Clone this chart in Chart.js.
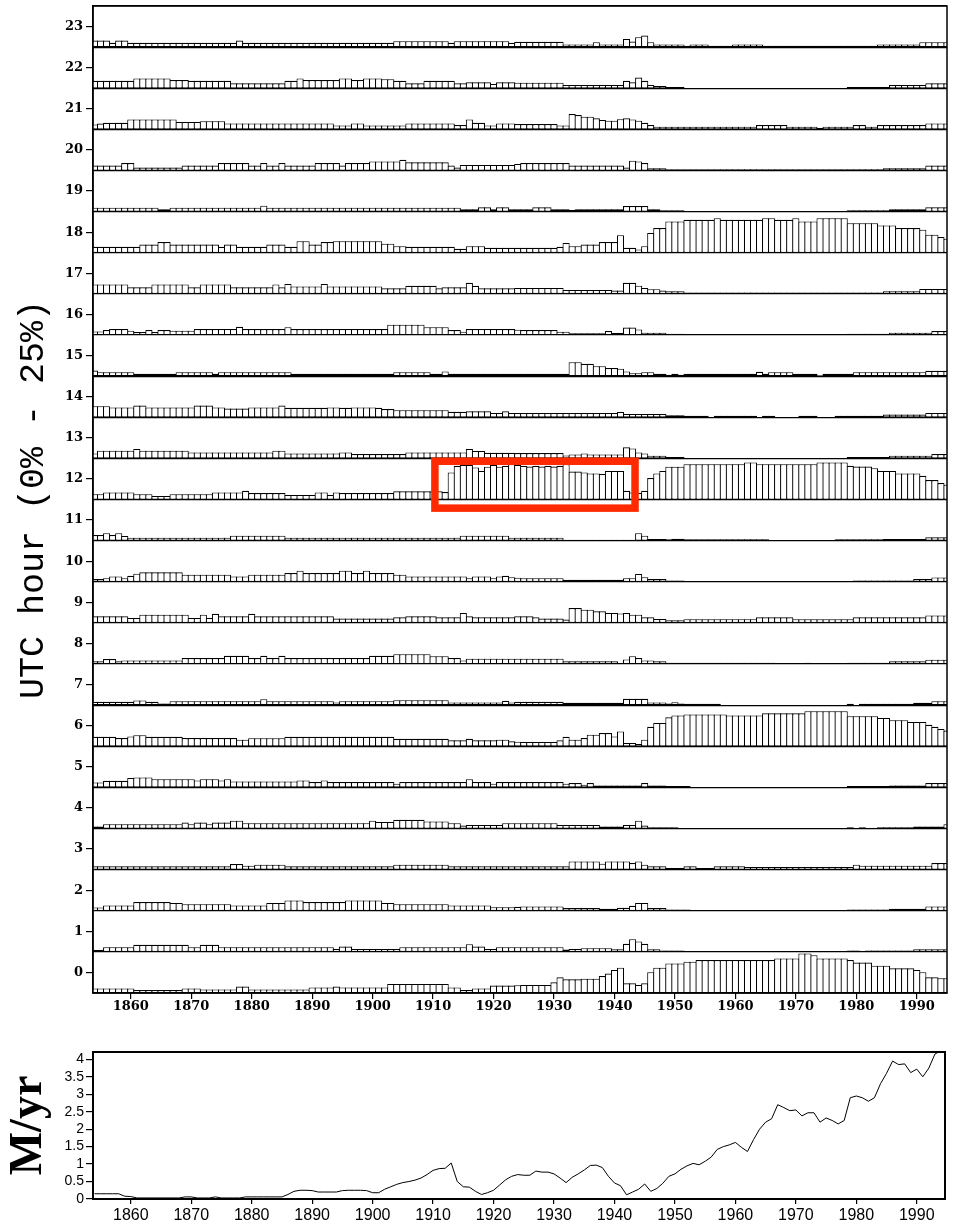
<!DOCTYPE html>
<html><head><meta charset="utf-8">
<script src="https://cdn.jsdelivr.net/npm/chart.js@4.4.1/dist/chart.umd.min.js"></script>
<style>
html,body{margin:0;padding:0;background:#fff;}
#wrap{position:relative;width:956px;height:1227px;background:#fff;}
#top{position:absolute;left:0;top:0;}
#bot{position:absolute;left:0;top:1030px;}
</style></head><body>
<div id="wrap"><canvas id="top" width="956" height="1030"></canvas><canvas id="bot" width="956" height="197"></canvas></div>
<script>
// ---------- data (percent of reports per UTC hour, one value per year 1854..1995) ----------
const firstYear = 1854;
const yearTicks = [1860,1870,1880,1890,1900,1910,1920,1930,1940,1950,1960,1970,1980,1990];
const hourTicks = [0,1,2,3,4,5,6,7,8,9,10,11,12,13,14,15,16,17,18,19,20,21,22,23];
const rateTicks = [0,0.5,1,1.5,2,2.5,3,3.5,4];

const h00 = [[2.8,2.8,2.8,2.8,2.8,2.8],
[2.8,1.8,1.8,1.8,1.8,1.8,1.8,1.8,1.8,2.8],[2.8,2.8,2.2,2.2,2.2,2.2,2.2,2.2,3.9,3.9],
[2.2,2.2,2.2,2.2,2.2,2.2,2.2,2.2,2.2,2.2],[3.4,3.4,3.4,3.4,3.9,3.4,3.4,3.4,3.4,3.4],
[3.4,3.4,3.4,5.5,5.5,5.5,5.5,5.5,5.5,5.5],[5.5,5.5,5.5,3.4,3.4,1.8,1.8,2.8,2.8,2.8],
[4.5,4.5,4.5,4.5,4.7,4.9,4.9,4.9,4.9,4.9],[6.5,9.5,8.3,8.3,8.3,8.7,8.7,8.7,10.3,11.8],
[14,15.4,5.9,5.9,4.9,5.9,12.6,15.4,15.4,18],[18,18,19,19,20,20,20,20,20,20],
[20,20,20,20,20,20,20,21,21,21],[21,24,24,23,21,21,21,21,21,20],
[18.5,18.5,18.5,16.6,16.6,16.6,15,15,15,15],[14,12.6,9.5,9.5,9,9]].flat();
const h01 = [[1.2,1.2,2.8,2.8,2.8,2.8],
[2.8,4.3,4.3,4.3,4.3,4.3,4.3,4.3,4.3,4.3],[2.8,2.8,4.3,4.3,4.3,2.8,2.8,2.8,2.8,2.8],
[2.8,2.8,2.8,2.8,2.8,2.8,2.8,2.8,2.8,2.8],[2.8,2.8,2.8,2.8,1.8,3.2,3.2,1.8,1.8,1.8],
[1.8,1.8,1.8,1.8,1.8,2.8,2.8,2.8,2.8,2.8],[2.8,2.8,2.8,2.8,2.8,2.8,4.7,3.2,3.2,1.8],
[1.8,2.8,2.8,2.8,2.8,2.8,2.8,2.8,2.8,2.8],[2.8,2.8,1.4,1.8,1.8,2.2,2.2,2.2,2.2,2.2],
[1.6,1.6,4.9,7.7,6.3,4.9,1.6,1.6,0.8,0.8],[0.8,0.8,0,0,0,0,0,0,0,0],
[0,0,0,0,0,0,0,0,0,0],[0,0,0,0,0,0,0,0,0,0.8],
[0.8,0,0.8,0.8,0.8,0.8,0.8,0.8,0.8,0.8],[1.6,1.6,1.6,1.6,1.6,1.6]].flat();
const h02 = [[2,2,3.2,3.2,3.2,3.2],
[3.2,5.3,5.3,5.3,5.3,5.3,5.3,4.7,4.7,4],[4,4,4,4,4,4,4,3.2,3.2,3.2],
[3.2,3.2,3.2,4.7,4.7,4.7,6.3,6.3,6.3,5.3],[5.3,5.3,5.3,5.3,5.3,5.3,6.3,6.3,6.3,6.3],
[6.3,6.3,4.7,4.7,4,4,4,4,4,4],[4,4,4,3.2,3.2,3.2,3.2,3.2,3.2,3.2],
[2.2,2.2,2.2,2.2,2.4,2.6,2.6,2.6,2.6,2.6],[2.6,2.6,1.6,1.6,1.6,1.6,1.6,1.6,1.2,1.2],
[1.2,1.8,1.8,3,4.7,4.7,1.6,1.6,1.6,0.8],[0.8,0.8,0.8,0,0,0,0,0,0,0],
[0,0,0,0,0,0,0,0,0,0],[0,0,0,0,0,0,0,0,0,0.8],
[0.8,0.8,0.8,0.8,0.8,0.8,1.2,1.2,1.2,1.2],[1.2,1.2,2.6,2.6,2.6,2.6]].flat();
const h03 = [[2,2,2,2,2,2],
[2,2,2,2,2,2,2,2,2,2],[2,2,2,2,2,2,2,3.4,3.4,2.4],
[2.4,3,3,3,3,3,2,2,2,2],[2,2,2,2,2,2,2,2,2,2],
[2,2,2,2,3,3,3,3,3,3],[3,3,3,2,2,2,2,2,2,2],
[2,2,2,2,2,2,2,2,2,2],[2,2,2,5,5,5,5,5,3.6,5],
[5,5,5,4,5,3,2,2,2,1],[1,1,2,2,1,1,1,2,2,2],
[2,2,1.6,1.6,1.6,1.6,1.6,1.6,1.6,1.6],[1.6,1.6,1.6,1.6,1.6,1.6,1.6,1.6,1.6,1.6],
[3,2.4,2.4,2.4,2.4,2.4,2.4,2.4,2.4,2.4],[2.4,2.4,2.4,4,4,4]].flat();
const h04 = [[1.2,1.2,2.6,2.6,2.6,2.6],
[2.6,2.6,2.6,2.6,2.6,2.6,2.6,2.6,2.6,3.6],[2.6,3.6,3.6,2.6,3.6,3.6,3.6,4.7,4.7,3.2],
[3.2,3.2,3.2,3.2,3.2,3.2,3.2,3.2,3.2,3.2],[3.2,3.2,3.2,3.2,3.2,3.2,3.2,3.2,3.2,3.2],
[4.7,4,4,4,5.3,5.3,5.3,5.3,5.3,4.3],[4.3,4.3,4.3,3.2,3.2,1.8,2.2,2.2,2.2,2.2],
[2.2,2.2,3.2,3.2,3.2,3.2,3.2,3.2,3.2,3.2],[3.2,2.2,2.2,2.2,2.2,2.2,2.2,2.2,1.2,1.2],
[1.2,1.2,2.2,2.2,4.7,1.8,0.8,0.8,0.8,0.8],[0.8,0,0,0,0,0,0,0,0,0],
[0,0,0,0,0,0,0,0,0,0],[0,0,0,0,0,0,0,0,0,0.8],
[0,0.8,0,0,0.8,0.8,0.8,0.8,0.8,0.8],[1.2,1.2,1.2,1.2,1.2,2.6]].flat();
const h05 = [[3,3,4,4,4,4],
[5.7,6,6,6,5,5,5,5,5,5],[5,4.2,5,5,5,4.2,5,3.6,3.6,3.6],
[3.6,3.6,3.6,3.6,3.6,3.6,3.6,3.6,4.2,4.2],[3.2,3.2,4.2,3.2,3.2,3.2,3.2,3.2,3.2,3.2],
[3.2,3.2,3.2,3.2,2.2,3.2,3.2,3.2,3.2,3.2],[3.2,3.2,3.2,3.2,3.2,3.2,5,3.2,3.2,3.2],
[2.2,3.2,3.2,3.2,3.2,3.2,3.2,3.2,3.2,3.2],[3.2,3.2,2.2,2.6,2.6,1.6,2.6,1.2,1.2,1.2],
[1.2,1.2,1.2,1.2,1.2,2.6,1.2,1.2,1.2,0.8],[0.8,0.8,0.8,0,0,0,0,0,0,0],
[0,0,0,0,0,0,0,0,0,0],[0,0,0,0,0,0,0,0,0,0.8],
[0.8,0.8,0.8,0.8,0.8,0.8,1.2,1.2,1.2,1.2],[1.2,1.2,2.6,2.6,2.6,2.6]].flat();
const h06 = [[5.7,5.7,5.7,5.7,5,5],
[6,6.7,6.7,5.7,5.7,5.7,5.7,5.7,5.7,5],[5,5,5,5,5,5,5,5,4,4],
[4.9,4.9,4.9,4.9,4.9,4.9,5.7,5.7,5.7,5.7],[5.7,5.7,5.7,5.7,5.7,5.7,5.7,5.7,5.7,5.7],
[5.7,5.7,5.7,5.7,4.5,4.5,4.5,4.5,4.5,4.5],[4.5,4.5,4.5,3.6,3.6,3.6,4.5,3.6,3.6,3.6],
[3.6,4,4,3,2.8,2.6,2.6,2.6,2.6,2.6],[2.6,3.6,5.7,4,4,5,7,7,8,8],
[6,9,2,2,1.4,4,11.8,14.2,14.2,17.6],[18.7,18.7,19.3,19.3,19.3,19.3,19.3,19.3,19.3,18.7],
[18.7,18.7,18.7,18.7,18.7,20,20,20,20,20],[20,20,21.3,21.3,21.3,21.3,21.3,21.3,21.3,18.3],
[18.3,18.3,18.3,18.3,17.2,17.2,15.8,15.8,15.8,14.8],[14.8,14.8,13,11.8,10.5,9.5]].flat();
const h07 = [[2,2,2,2,2,2],
[2,2.8,2.8,2,2,1,1,2.4,2.4,2.4],[2.4,2.4,2.4,2.4,2.4,2.4,2.4,2.4,2.4,2.4],
[2.4,2.4,3.6,2.4,2.4,2.4,2.4,2.4,2.4,2.4],[2.4,2.4,2.4,2.4,1.6,2.4,2.4,2.4,2.4,2.4],
[2.4,2.4,2.4,2.4,3,3,3,3,3,3],[3,3,3,1.6,1.6,1.6,1.6,1.6,1.6,1.6],
[1.6,1.6,2.6,1.6,2,2,2,2,2,2],[2,2,1.4,1.4,1.4,1.4,1.4,1.4,1.4,1.4],
[1.4,1.4,3.8,3.8,3.8,3.8,1.6,1.6,1.6,1],[1.8,1,0.8,0.8,0.8,0.8,0.8,0.8,0,0],
[0,0,0,0,0,0,0,0,0,0],[0,0,0,0,0,0,0,0,0,0.8],
[0,0.8,0.8,0.8,0.8,0.8,0.8,0.8,0.8,0.8],[1.4,1.4,1.4,2.4,2.4,2.4]].flat();
const h08 = [[1.6,1.6,3,3,1.6,2.2],
[2.2,2.2,2.2,2.2,2.2,2.2,2.2,2.2,2.2,3.6],[3.6,3.6,3.6,3.6,3.6,3.6,5,5,5,5],
[3.6,3.6,5,3.6,3.6,5,3.6,3.6,3.6,3.6],[3.6,3.6,3.6,3.6,3.6,3.6,3.6,3.6,3.6,3.6],
[5,5,5,5,6,6,6,6,6,6],[4.7,4.7,4.7,3.6,3.6,2.2,3.2,3.2,3.2,3.2],
[3.2,3.2,3.2,3.2,3.2,3.2,3.2,3.2,3.2,3.2],[3.2,3.2,1.6,1.6,1.6,1.6,1.6,1.6,1.6,1.6],
[1.6,0.6,2.8,4.7,3.6,2.2,2.2,1.6,1.6,0.8],[0.8,0.8,0.8,0.8,0.8,0.8,0.8,0.8,0.8,0.8],
[0.8,0.8,0.8,0.8,0.8,0.8,0.8,0,0,0],[0,0,0.8,0,0,0,0,0,0,0.8],
[0.8,0.8,0.8,0.8,0.8,0.8,1.6,1.6,1.6,1.6],[1.6,1.6,2.6,2.6,2.6,2.6]].flat();
const h09 = [[4,4,4,4,4,4],
[3,3,5,5,5,5,5,5,5,5],[3,3,5,3,5.5,4,4,4,4,4],
[5.5,4,4,4,4,4,4,4,4,4],[4,4,4,4,2.6,2.6,2.6,2.6,2.6,2.6],
[2.6,2.6,2.6,2.6,3.4,3.4,4,4,4,4],[4,3.4,3.4,3.4,3.4,6,4,3.4,3.4,3.4],
[3.4,3.4,3.4,3.4,4,4,4,3.4,2.6,2.6],[2.6,2.6,2,9,9,8,8,7,7,6],
[6,5.7,6,5,5,3.4,3.4,2.4,2.4,1.6],[1.6,1.6,2.2,2.2,2.2,2.2,2.2,2.2,2.2,2.2],
[2.2,2.2,2.2,2.2,3.4,3.4,3.4,3.4,3.4,3.4],[2.2,2.2,2.2,2.2,2.2,2.2,2.2,2.2,2.2,2.2],
[3.4,3.4,3.4,3.4,3.4,3.4,3.4,3.4,3.4,3.4],[3.4,3.4,4.5,4.5,4.5,4.5]].flat();
const h10 = [[1.6,1.6,2.2,3.2,3.2,2.2],
[3.6,4.9,5.7,5.7,5.7,5.7,5.7,5.7,5.7,4.3],[4.3,4.3,4.3,4.3,4.3,4.3,4.3,3.2,3.2,3.2],
[4.3,4.3,4.3,4.3,4.3,4.3,5.3,5.3,6.7,5.3],[5.3,5.3,5.3,5.3,5.3,6.7,6.7,5.3,5.3,6.7],
[5.3,5.3,5.3,5.3,4.3,4.3,3.2,3.2,3.2,3.2],[3.2,3.2,3.2,3.2,3.2,3.2,2.2,3.2,3.2,3.2],
[2.2,3.2,3.6,2.8,2.5,2.2,2.2,2.2,2.2,2.2],[2.2,2.2,1.2,1.2,1.2,1.2,1.2,1.2,1.2,1.2],
[1.2,1.2,2.2,2.2,4.7,2.8,1.6,1.6,1.6,0.8],[0.8,0.8,0,0,0,0,0,0,0,0],
[0,0,0,0,0,0,0,0,0,0],[0,0,0,0,0,0,0,0,0,0],
[0.8,0.8,0.8,0.8,0.8,0.8,0.8,0.8,0.8,0.8],[1.6,1.6,1.6,2.6,2.6,2.6]].flat();
const h11 = [[3.4,3.4,4.5,3.4,4.5,2.8],
[1.8,1.8,1.8,1.8,1.8,1.8,1.8,1.8,1.8,1.8],[1.8,1.8,1.8,1.8,1.8,1.8,1.8,3,3,3],
[3,3,3,3,3,3,1.8,1.8,1.8,1.8],[1.8,1.8,1.8,1.8,1.8,1.8,1.8,1.8,1.8,1.8],
[1.8,1.8,1.8,1.8,1.8,1.8,1.8,1.8,1.8,1.8],[1.8,1.8,1.8,1.8,1.8,3,3,3,3,3],
[3,3,3,1.8,1.8,1.8,1.8,1.8,1.8,1.8],[1.8,1.8,0.6,0.6,0.6,0.6,0.6,0.6,0.6,0.6],
[0.6,0.6,0.6,0.6,4.5,3,1,1,1,0.8],[1.2,1.2,0.8,0.8,0.8,0.8,0.8,0.8,0.8,0.8],
[0.8,0.8,0.8,0.8,0.8,0.8,0,0,0,0],[0,0,0,0,0,0,0,0.8,0.8,0.8],
[0.8,0.8,0.8,0.8,0.8,1,1,1,1,1],[1,1,2,2,2,2]].flat();
const h12 = [[3.2,3.2,4.3,4.3,4.3,4.3],
[4.3,3.2,3.2,3.2,2.2,2.2,2.2,3.2,3.2,3.2],[3.2,3.2,3.2,3.2,4.3,4.3,4.3,4.3,4.3,5.3],
[3.9,3.9,3.9,3.9,3.9,3.9,2.8,2.8,2.8,2.8],[2.8,4.3,4.3,2.8,4.3,3.9,3.9,3.9,3.9,3.9],
[3.9,3.9,3.9,3.9,5,5,5,5,5,5],[5,5,4.5,16.4,20.5,21,21,19.5,17.4,19.9],
[21,19.9,20.5,21.5,21,20.5,20,20.5,20,20.5],[20,20.5,21.5,17,17,16.4,15.8,15.8,15.5,17.4],
[17.4,17.4,5.3,4.3,4,5.3,13,15.8,17.4,19.9],[19.9,19.9,21.5,21.5,21.5,21.5,21.5,21.5,21.5,21.5],
[21.5,21.5,22.5,22.5,21.5,21.5,21.5,21.5,21.5,21.5],[21.5,21.5,21.5,21.5,22.5,22.5,22.5,22.5,22.5,20.5],
[20,20,20,19,17.4,17.4,17.4,15.8,15.8,15.8],[15.8,14.4,11.8,11.8,10,9]].flat();
const h13 = [[3,4.7,4.7,4.7,4.7,4.7],
[4.7,5.7,4.7,4.7,4.7,4.7,4.7,4.7,4.7,4.7],[3.6,3.6,3.6,3.6,3.6,3.6,3.6,3.6,3.6,3.6],
[3.6,3.6,3.6,3.6,4.7,4.7,3,3,3,3],[3,3,3,3,3,3.6,3.6,2.6,2.6,2.6],
[2.6,2.6,2.6,2.6,2.6,2.6,3.6,3.6,3.6,3.6],[3.6,3.6,3.6,3.6,3.6,3.6,5.7,4.5,4.5,3.4],
[3.4,3.4,3.4,3.4,3.2,3.2,3.2,3.2,3.2,3.2],[3.2,3.2,1.8,2.4,2.4,3,2.4,2.4,2.4,2.4],
[2.4,2.4,6.7,6,3.6,3,1.6,1.6,1.6,0.8],[0.8,0.8,0,0,0,0,0,0,0,0],
[0,0,0,0,0,0,0,0,0,0],[0,0,0,0,0,0,0,0,0,0.8],
[0.8,0.8,0.8,0.8,0.8,0.8,1.6,1.6,1.6,1.6],[1.6,1.6,1.6,2.6,2.6,2.6]].flat();
const h14 = [[6.7,6.7,6.7,6,6,6],
[6,7.1,7.1,6,6,6,6,6,6,6],[6,7.1,7.1,7.1,6,6,5.3,5.3,5.3,5.3],
[6,6,6,6,6,7.1,5.7,5.7,5.7,5.7],[5.7,5.7,5.7,6,6,5.7,5.7,6,6,6],
[6,5.7,5,5,4.3,4.3,4.3,4.3,4.3,4.3],[4.3,4.3,4.3,3.3,3.3,3.3,3.6,3.6,3.6,3.6],
[2.6,2.6,3.6,2.6,2.6,2.6,2.6,2.6,2.6,2.6],[2.6,2.6,2.6,2.6,2.6,2.6,2.6,2.6,2.6,2.6],
[2.6,3.2,2,2,2,2,2,2,2,1.2],[1.2,1.2,0.9,0.9,0.9,0.9,0,0.9,0.9,0.9],
[0.9,0.9,0.9,0.9,0,0.9,0.9,0,0,0],[0,0.9,0.9,0.9,0,0,0,0.9,0.9,0.9],
[0.9,0.9,0.9,0.9,0.9,1.6,1.6,1.6,1.6,1.6],[1.6,1.6,2.6,2.6,2.6,2.6]].flat();
const h15 = [[3.4,2.4,2.4,2.4,2.4,2.4],
[2.4,1.4,1.4,1.4,1.4,1.4,1.4,1.4,2.4,2.4],[2.4,2.4,2.4,2.4,1.4,2.4,2.4,2.4,2.4,2.4],
[2.4,2.4,2.4,2.4,2.4,2.4,2.4,1.4,1.4,1.4],[1.4,1.4,1.4,1.4,1.4,1.4,1.4,1.4,1.4,1.4],
[1.4,1.4,1.4,1.4,2.4,2.4,2.4,2.4,2.4,2.4],[1.4,1.4,2.8,1.4,1.4,1.4,1.4,1.4,1.4,1.4],
[1.4,1.4,1.4,1.4,1.4,1.4,1.4,1.4,1.4,1.4],[1.4,1.4,1.4,8.5,8.5,7.5,7.5,6,6,4.9],
[4.9,4.5,2.8,1.8,1.8,2.4,2.4,1.4,1.4,0.8],[1.4,0.8,1.4,1.4,1.4,1.4,1.4,1.4,1.4,1.4],
[1.4,1.4,1.4,1.4,2.6,1.4,2.4,2.4,2.4,2.4],[1.4,1.4,1.4,1.4,0.6,1.4,1.4,1.4,1.4,1.4],
[2.4,2.4,2.4,2.4,2.4,2.4,2.4,2.4,2.4,2.4],[2.4,2.4,3.2,3.2,3.2,3.2]].flat();
const h16 = [[2.2,2.2,3,3.6,3.6,3.6],
[2.6,1.8,1.8,3,1.8,3,3,2.6,2.6,2.6],[2.6,3.6,3.6,3.6,3.6,3.6,3.6,3.6,5,3.6],
[3.6,3.6,3.6,3.6,3.6,3.6,4.7,3.6,3.6,3.6],[3.6,3.6,3.6,3.6,3.6,3.6,3.6,3.6,3.6,3.6],
[3.6,3.6,3.6,6.3,6.3,6.3,6.3,6.3,6.3,4.7],[4.7,4.7,4.7,3,3,2,3.6,3.6,3.6,3.6],
[3.6,3.6,3.6,3.6,3.2,3,3,3,3,3],[3,2,2,1,1,1,1,1,1,2.4],
[1.2,1.2,4.5,4.5,3.4,1.4,1.4,1.4,1.4,0.8],[0.8,0.8,0,0,0,0,0,0,0,0],
[0,0,0,0,0,0,0,0,0,0],[0,0,0,0,0,0,0,0,0,0.8],
[0.8,0.8,0.8,0.8,0.8,0.8,1.4,1.4,1.4,1.4],[1.4,1.4,1.4,2.4,2.4,2.4]].flat();
const h17 = [[5.7,5.7,5.7,5.7,5.7,5.7],
[4,4,4,4,5.7,5.7,5.7,5.7,5.7,5.7],[4,4,5.7,5.7,5.7,5.7,5.7,4,4,4],
[4,4,4,4,5.7,4,6,4.5,4.5,4.5],[4.5,4.5,6,4.5,4.5,4.5,4.5,4.5,4.5,4.5],
[4.5,4.5,3.4,3.4,3.4,3.4,4.9,4.9,4.9,4.9],[4.9,3.4,4,4,4,4,6.7,4.9,3.4,3.4],
[3.4,3.4,3.4,3.4,3.6,3.6,3.6,3.6,3.6,3.6],[3.6,3.6,2.4,2.4,2.4,2.4,2.4,2.4,2.4,2.4],
[2,2,6.7,6.7,5,3.6,2.8,2.8,2,1.6],[1.6,1.6,0.8,0.8,0.8,0.8,0.8,0.8,0.8,0.8],
[0.8,0.8,0.8,0.8,0.8,0.8,0.8,0.8,0.8,0.8],[0.8,0.8,0.8,0.8,0.8,0.8,0.8,0.8,0.8,0.8],
[0.8,0.8,0.8,0.8,0.8,1.6,1.6,1.6,1.6,1.6],[1.6,3,3,3,3,3]].flat();
const h18 = [[3.6,3.6,3.6,3.6,3.6,3.6],
[3.6,3.6,5,5,5,6.5,6.5,5,5,5],[5,5,5,5,5,3.6,5,5,3.6,3.6],
[3.6,3.6,3.6,5,5,5,3.6,3.6,7,7],[5,5,6.5,6.5,7,7,7,7,7,7],
[7,7,5.5,5.5,4,4,3.6,3.6,3.6,3.6],[3.6,3.6,3.6,3.6,2.4,2.4,4,4,4,3],
[3,3,3,3,3,3,3,3,3,3],[3,3.6,6,4,4,5,5,5,6.5,6.5],
[6.5,10.7,3,3,2,4,12,15,15,19],[19,19,20,20,20,20,20,21,20,20],
[20,20,20,20,20,21,21,20,20,20],[21,19,19,19,21,21,21,21,21,18],
[18,18,18,18,16.6,16.6,16.6,15,15,15],[15,14,11,11,9.5,8.5]].flat();
const h19 = [[2.4,2.4,2.4,2.4,2.4,2.4],
[2.4,2.4,2.4,2.4,2.4,1.4,1.4,2.4,2.4,2.4],[2.4,2.4,2.4,2.4,2.4,2.4,2.4,2.4,2.4,2.4],
[2.4,2.4,3.6,2.4,2.4,2.4,2.4,2.4,2.4,2.4],[2.4,2.4,2.4,2.4,2.4,2.4,2.4,2.4,2.4,2.4],
[2.4,2.4,2.4,2.4,2.4,2.4,2.4,2.4,2.4,2.4],[2.4,2.4,2.4,2.4,2.4,1.4,1.4,1.4,2.6,2.6],
[1.4,2.6,2.6,1.4,1.4,1.4,1.4,2.6,2.6,2.6],[1.4,1.4,1.4,1,1.4,1.4,1.4,1.4,1.4,1.4],
[1.4,1.4,3.4,3.4,3.4,3.4,1.4,1.4,0.8,0.8],[0.8,0.8,0,0,0,0,0,0,0,0],
[0,0,0,0,0,0,0,0,0,0],[0,0,0,0,0,0,0,0,0,0.8],
[0.8,0.8,0.8,0.8,0.8,0.8,1.4,1.4,1.4,1.4],[1.4,1.4,2.6,2.6,2.6,2.6]].flat();
const h20 = [[3,3,3,3,3,4.5],
[4.5,1.8,1.8,1.8,1.8,1.8,1.8,1.8,1.8,3],[3,3,3,3,3,4.5,4.5,4.5,4.5,4.5],
[3,3,4.5,3,3,4.5,3,3,3,3],[3,4.5,4.5,4.5,4.5,3,4.5,4.5,4.5,4.5],
[5.5,5.5,5.5,5.5,5.5,6.5,5,5,5,5],[5,5,5,3,1.8,3.4,3.4,3.4,3.4,3.4],
[3.4,3.4,3.4,3.4,4,4.5,4.5,4.5,4.5,4.5],[4.5,4.5,4.5,3,3,3,3,3,3,3],
[3,3,1.8,6,5.5,4.5,1.4,1.4,1.4,0.8],[0.8,0.8,0.8,0.8,0.8,0.8,0.8,0.8,0.8,0.8],
[0.8,0.8,0.8,0.8,0.8,0.8,0.8,0.8,0.8,0.8],[0.8,0.8,0.8,0.8,0.8,0.8,0.8,0.8,0.8,0.8],
[0.8,0.8,0.8,0.8,0.8,1.4,1.4,1.4,1.4,1.4],[1.4,1.4,3,3,3,3]].flat();
const h21 = [[3,3.5,4,4,4,4],
[6,6,6,6,6,6,6,6,4.5,4.5],[4.5,4.5,5,5,5,5,3.6,3.6,3.6,3.6],
[3.6,3.6,3.6,3.6,3.6,3.6,3.6,3.6,3.6,3.6],[3.6,3.6,3.6,3.6,2.4,2.4,2.4,3.6,3.6,2.4],
[2.4,2.4,2.4,2.4,2.4,2.4,3.6,3.6,3.6,3.6],[3.6,3.6,3.6,3.6,2.6,2.6,6,4,4,2.4],
[2.4,3.6,3.6,3.6,3.2,3.2,3.2,3.2,3.2,3.2],[3.2,2.4,2.4,9.3,8.7,7.7,7.7,6.7,5.7,5.3],
[5.3,6.2,6.7,6,5.3,4,2.6,1.6,1.6,1.6],[1.6,1.6,1.6,1.6,1.6,1.6,1.6,1.6,1.6,1.6],
[1.6,1.6,1.6,1.6,2.6,2.6,2.6,2.6,2.6,1.6],[1.6,1.6,1.6,1.6,0.8,1.6,1.6,1.6,1.6,1.6],
[2.6,2.6,1.6,1.6,2.6,2.6,2.6,2.6,2.6,2.6],[2.6,2.6,3.6,3.6,3.6,3.6]].flat();
const h22 = [[4.5,4.5,4.5,4.5,4.5,4.5],
[4.5,6,6,6,6,6,6,5,5,5],[4.5,4.5,4.5,4.5,4.5,4.5,4.5,3,3,3],
[3,3,3,3,3,3,4.5,4.5,6,5],[5,5,5,5,5,6,6,5,5,6],
[6,6,5.5,5.5,4.5,4.5,3,3,3,4.5],[4.5,4.5,4.5,4.5,3,3,3.6,3.6,3.6,3.6],
[2.6,3.6,3.6,3.6,3.4,3.4,3.4,3.4,3.4,3.4],[3.4,3.4,2,2,2,2,2,2,2,2],
[2,2,4.5,3.6,6.5,4.5,2,1.4,1.4,0.8],[0.8,0.8,0,0,0,0,0,0,0,0],
[0,0,0,0,0,0,0,0,0,0],[0,0,0,0,0,0,0,0,0,0.8],
[0.8,0.8,0.8,0.8,0.8,0.8,2,2,2,2],[2,2,3,3,3,3]].flat();
const h23 = [[4,4,4,2.6,4,4],
[2.6,2.6,2.6,2.6,2.6,2.6,2.6,2.6,2.6,2.6],[2.6,2.6,2.6,2.6,2.6,2.6,2.6,2.6,4,2.6],
[2.6,2.6,2.6,2.6,2.6,2.6,2.6,2.6,2.6,2.6],[2.6,2.6,2.6,2.6,2.6,2.6,2.6,2.6,2.6,2.6],
[2.6,2.6,2.6,2.6,3.6,3.6,3.6,3.6,3.6,3.6],[3.6,3.6,3.6,2.6,3.6,3.6,3.6,3.6,3.6,3.6],
[3.6,3.6,3.6,2.6,3.2,3.2,3.2,3.2,3.2,3.2],[3.2,3.2,1.6,1.6,1.6,1.6,1.6,3,1.6,1.6],
[1.6,1.6,5,3.4,6,7,3,1.6,1.6,1.6],[1.6,1.6,0.8,1.6,1.6,1.6,0.8,0.8,0.8,0.8],
[1.6,1.6,1.6,1.6,1.6,0.8,0.8,0.8,0.8,0.8],[0.8,0.8,0.8,0.8,0.8,0.8,0.8,0.8,0.8,0.8],
[0.8,0.8,0.8,0.8,1.6,1.6,1.6,1.6,1.6,1.6],[1.6,3,3,3,3,3]].flat();

// million reports per year, 1854..1994
const mPerYear = [[0.15,0.15,0.15,0.15,0.15,0.08],
[0.07,0.03,0.03,0.03,0.03,0.03,0.03,0.03,0.03,0.06],[0.06,0.03,0.03,0.03,0.06,0.03,0.03,0.03,0.03,0.06],
[0.06,0.06,0.06,0.06,0.06,0.06,0.13,0.22,0.25,0.25],[0.24,0.2,0.2,0.2,0.2,0.24,0.25,0.25,0.25,0.24],
[0.18,0.18,0.28,0.35,0.42,0.47,0.5,0.54,0.6,0.7],[0.82,0.87,0.88,1.03,0.5,0.35,0.34,0.22,0.13,0.18],
[0.25,0.4,0.55,0.65,0.7,0.68,0.68,0.8,0.77,0.77],[0.72,0.6,0.47,0.62,0.72,0.83,0.96,0.97,0.9,0.65],
[0.46,0.38,0.12,0.2,0.28,0.43,0.22,0.3,0.45,0.65],[0.72,0.85,0.95,1.02,0.98,1.08,1.2,1.42,1.5,1.55],
[1.62,1.48,1.36,1.7,2.0,2.2,2.3,2.7,2.62,2.53],[2.55,2.38,2.47,2.47,2.2,2.32,2.25,2.15,2.25,2.9],
[2.95,2.9,2.8,2.9,3.3,3.6,3.95,3.85,3.87,3.62],[3.72,3.5,3.75,4.15,4.25]].flat();

const hourRows = [h00,h01,h02,h03,h04,h05,h06,h07,h08,h09,h10,h11,h12,h13,h14,h15,h16,h17,h18,h19,h20,h21,h22,h23];
const rowFull = 25; // one row band = 0% .. 25%
// highlighted region (red box) in data units: years and hour-axis values
const boxYears = [1910.3, 1943.4];
const boxHours = [11.29, 12.43];

// ---------- drawing ----------
const frame = {
  id: 'frame',
  afterDatasetsDraw(chart, args, opts) {
    const {ctx, chartArea: a} = chart;
    ctx.save();
    ctx.strokeStyle = '#000';
    ctx.lineWidth = opts.width || 1.5;
    ctx.strokeRect(a.left, a.top, a.right - a.left, a.bottom - a.top);
    ctx.restore();
  }
};
const redBox = {
  id: 'redBox',
  afterDatasetsDraw(chart) {
    const {ctx, scales} = chart;
    const x = scales.x, y = scales.y;
    const l = x.getPixelForValue(boxYears[0]), r = x.getPixelForValue(boxYears[1]);
    const t = y.getPixelForValue(boxHours[1]), b = y.getPixelForValue(boxHours[0]);
    ctx.save();
    ctx.strokeStyle = '#ff2a00';
    ctx.lineWidth = 7.5;
    ctx.strokeRect(l, t, r - l, b - t);
    ctx.restore();
  }
};

const tickFont = {family: 'DejaVu Serif', size: 13, weight: 'bold'};

new Chart(document.getElementById('top'), {
  type: 'bar',
  data: {
    datasets: hourRows.map((vals, k) => ({
      data: vals.map((v, i) => ({x: firstYear + i, y: [k - 0.5, k - 0.5 + v / rowFull]})),
      backgroundColor: '#fff',
      borderColor: '#000',
      borderWidth: 1.1,
      borderSkipped: false,
      inflateAmount: 0,
      grouped: false,
      categoryPercentage: 1,
      barPercentage: 1.18
    }))
  },
  options: {
    responsive: false, animation: false, events: [],
    layout: {padding: {top: 6, right: 9, left: 0, bottom: 0}},
    plugins: {legend: {display: false}, tooltip: {enabled: false}, frame: {width: 1.5}},
    scales: {
      x: {
        type: 'linear', min: 1853.75, max: 1995, offset: false, position: 'bottom',
        afterBuildTicks: s => { s.ticks = yearTicks.map(v => ({value: v})); },
        afterFit: s => { s.height = 37; s.paddingLeft = 0; s.paddingRight = 0; },
        grid: {display: true, drawOnChartArea: false, offset: false, color: '#000', lineWidth: 1.2, tickLength: 6},
        border: {display: true, color: '#000', width: 1.5},
        ticks: {font: tickFont, color: '#000', padding: 0, maxRotation: 0, autoSkip: false, callback: v => String(v)}
      },
      y: {
        type: 'linear', min: -0.5, max: 23.5, position: 'left',
        afterBuildTicks: s => { s.ticks = hourTicks.map(v => ({value: v})); },
        afterFit: s => { s.width = 93; s.paddingTop = 0; s.paddingBottom = 0; },
        grid: {display: true, drawOnChartArea: false, color: '#000', lineWidth: 1.2, tickLength: 7},
        border: {display: true, color: '#000', width: 1.5},
        ticks: {font: tickFont, color: '#000', padding: 3, autoSkip: false, callback: v => String(v)},
        title: {display: true, text: 'UTC hour (0% - 25%)', color: '#000',
                font: {family: 'Liberation Mono', size: 35}, padding: {top: 13, bottom: 0}}
      },
      base: {
        type: 'linear', min: -0.5, max: 23.5, position: 'left',
        afterBuildTicks: s => { s.ticks = hourTicks.concat([24]).map(v => ({value: v - 0.5})); },
        afterFit: s => { s.width = 0; s.paddingTop = 0; s.paddingBottom = 0; },
        grid: {display: true, drawOnChartArea: true, drawTicks: false, color: '#000', lineWidth: 1.2},
        border: {display: false},
        ticks: {display: false}
      }
    }
  },
  plugins: [frame, redBox]
});

new Chart(document.getElementById('bot'), {
  type: 'line',
  data: {
    datasets: [{
      data: mPerYear.map((v, i) => ({x: firstYear + i, y: v})),
      borderColor: '#000', borderWidth: 1, pointRadius: 0, tension: 0, fill: false
    }]
  },
  options: {
    responsive: false, animation: false, events: [],
    layout: {padding: {top: 22, right: 11, left: 0, bottom: 0}},
    plugins: {legend: {display: false}, tooltip: {enabled: false}, frame: {width: 2}},
    scales: {
      x: {
        type: 'linear', min: 1853.75, max: 1994.67, position: 'bottom',
        afterBuildTicks: s => { s.ticks = yearTicks.map(v => ({value: v})); },
        afterFit: s => { s.height = 28; s.paddingLeft = 0; s.paddingRight = 0; },
        grid: {display: true, drawOnChartArea: false, color: '#000', lineWidth: 1.2, tickLength: 5},
        border: {display: true, color: '#000', width: 1.5},
        ticks: {font: {family: 'Liberation Sans', size: 16}, color: '#000', padding: 2, maxRotation: 0, autoSkip: false, callback: v => String(v)}
      },
      y: {
        type: 'linear', min: 0, max: 4.21, position: 'left',
        afterBuildTicks: s => { s.ticks = rateTicks.map(v => ({value: v})); },
        afterFit: s => { s.width = 93; s.paddingTop = 0; s.paddingBottom = 0; },
        grid: {display: true, drawOnChartArea: false, color: '#000', lineWidth: 1.2, tickLength: 7},
        border: {display: true, color: '#000', width: 2},
        ticks: {font: {family: 'Liberation Sans', size: 14}, color: '#000', padding: 2, autoSkip: false, callback: v => String(v)},
        title: {display: true, text: 'M/yr', color: '#000',
                font: {family: 'Liberation Serif', size: 46, weight: 'bold'}, padding: {top: 2, bottom: 0}}
      }
    }
  },
  plugins: [frame]
});
</script>
</body></html>
